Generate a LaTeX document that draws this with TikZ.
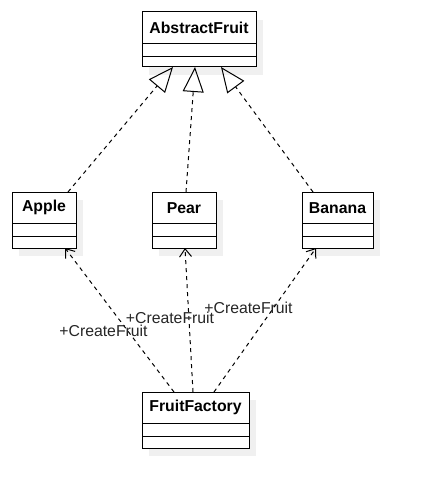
\documentclass[tikz,border=0pt]{standalone}
\usepackage{fontspec}
\setmainfont{Liberation Sans}
\usetikzlibrary{arrows.meta,calc}
\begin{document}
\begin{tikzpicture}[x=1pt,y=-1pt,
  box/.style={draw, line width=1pt, fill=white, anchor=north west, inner sep=0pt, outer sep=0pt},
  shadowfill/.style={fill=gray!12},
  clsname/.style={font=\bfseries\fontsize{15.8}{19}\selectfont, inner sep=0pt},
  lbl/.style={font=\fontsize{15.8}{19}\selectfont, inner sep=0pt, text=black!85},
  inherit/.style={line width=1pt, dash pattern=on 4pt off 4pt, -{Triangle[open, length=25pt, width=21pt, line width=1pt]}},
  depend/.style={line width=1pt, dash pattern=on 4pt off 4pt, -{Straight Barb[length=8pt, width=12pt, line width=1pt]}}
]
\useasboundingbox (0,0) rectangle (421,497);
\fill[white] (0,0) rectangle (421,497);
\newcommand\umlcls[6]{%
  \fill[shadowfill] (#2+7,#3+8) rectangle (#2+#4+7,#3+#5+8);
  \node[box, minimum width=#4pt, minimum height=#5pt] (#1) at (#2,#3) {};
  \draw[line width=1pt] ($(#1.north west)+(0,31.3)$) -- ($(#1.north east)+(0,31.3)$);
  \draw[line width=1pt] ($(#1.north west)+(0,44.7)$) -- ($(#1.north east)+(0,44.7)$);
  \node[clsname] (#1-t) at ($(#1.north)+(0,15.8)$) {#6};
}
\umlcls{abs}{142}{12}{114}{55}{AbstractFruit}
\umlcls{apple}{12}{192}{64}{56}{Apple}
\umlcls{pear}{152}{192}{64}{56}{Pear}
\umlcls{banana}{302}{192}{71}{56}{Banana}
\umlcls{factory}{142}{392}{107}{56}{FruitFactory}

% inheritance
\coordinate (tA) at ($(abs.south west)+(31,0)$);
\coordinate (tP) at ($(abs.south west)+(53,0)$);
\coordinate (tB) at ($(abs.south west)+(79,0)$);
\coordinate (sA) at ($(apple.north west)+(56,0)$);
\coordinate (sP) at ($(pear.north west)+(34,0)$);
\coordinate (sB) at ($(banana.north west)+(11,0)$);
\draw[inherit] (sA) -- (tA);
\draw[inherit] (sP) -- (tP);
\draw[inherit] (sB) -- (tB);

% dependencies
\coordinate (fA) at ($(factory.north west)+(32,0)$);
\coordinate (fP) at ($(factory.north west)+(51,0)$);
\coordinate (fB) at ($(factory.north west)+(72,0)$);
\coordinate (eA) at ($(apple.south west)+(53,0)$);
\coordinate (eP) at ($(pear.south west)+(33,0)$);
\coordinate (eB) at ($(banana.south west)+(14,0)$);
\draw[depend] (fA) -- (eA);
\draw[depend] (fP) -- (eP);
\draw[depend] (fB) -- (eB);

\node[lbl] (lA) at (103.5,331) {+CreateFruit};
\node[lbl] (lP) at (170,318) {+CreateFruit};
\node[lbl] (lB) at (248.5,308) {+CreateFruit};
\end{tikzpicture}
\end{document}
